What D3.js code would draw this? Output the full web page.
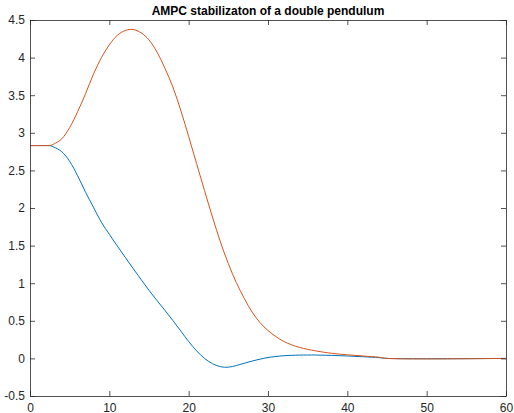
<!DOCTYPE html>
<html>
<head>
<meta charset="utf-8">
<script src="https://cdn.jsdelivr.net/npm/d3@7"></script>
<style>
  body { margin: 0; background: #fff; }
  text { font-family: "Liberation Sans", Arial, sans-serif; }
</style>
</head>
<body>
<div id="chart"></div>
<script>
// data
var time = [0, 1, 2, 2.5, 3, 4, 5, 6, 7, 8, 9, 10, 11, 12, 13, 14, 15, 16, 17, 18, 19, 20,
  21, 22, 23, 24, 25, 26, 27, 28, 29, 30, 31, 32, 33, 34, 36, 38, 40, 42, 44, 45, 60];
var theta1 = [2.83, 2.83, 2.83, 2.83, 2.81, 2.75, 2.62, 2.43, 2.21, 2.01, 1.81, 1.65, 1.495, 1.345, 1.195, 1.05,
  0.905, 0.77, 0.64, 0.505, 0.365, 0.225, 0.10, 0.0, -0.07, -0.11, -0.117, -0.095, -0.065, -0.035, -0.01,
  0.012, 0.026, 0.036, 0.041, 0.044, 0.045, 0.04, 0.032, 0.022, 0.01, 0, 0];
var theta2 = [2.83, 2.83, 2.83, 2.83, 2.85, 2.92, 3.07, 3.28, 3.52, 3.78, 4.0, 4.17, 4.295, 4.36, 4.374, 4.33,
  4.235, 4.075, 3.86, 3.61, 3.30, 2.95, 2.59, 2.23, 1.88, 1.55, 1.26, 1.01, 0.80, 0.615, 0.475, 0.37,
  0.29, 0.225, 0.18, 0.145, 0.10, 0.068, 0.048, 0.032, 0.015, 0, 0];
var xTicks = [0, 10, 20, 30, 40, 50, 60];
var yTicks = [-0.5, 0, 0.5, 1, 1.5, 2, 2.5, 3, 3.5, 4, 4.5];

function drawChart() {
  var width = 514, height = 413;
  var mLeft = 30, mRight = 506, mTop = 20, mBottom = 396;

  var svg = d3.select('#chart').append('svg')
    .attr('width', width)
    .attr('height', height);

  var x = d3.scaleLinear().domain([0, 60]).range([mLeft, mRight]);
  var y = d3.scaleLinear().domain([-0.5, 4.5]).range([mBottom, mTop]);

  // curves
  var line = d3.line()
    .x(function(d) { return x(d[0]); })
    .y(function(d) { return y(d[1]); })
    .curve(d3.curveCatmullRom.alpha(0.5));

  var series = [
    { vals: theta1, color: '#0072BD' },
    { vals: theta2, color: '#D95319' }
  ];

  series.forEach(function(s) {
    svg.append('path')
      .datum(time.map(function(t, i) { return [t, s.vals[i]]; }))
      .attr('fill', 'none')
      .attr('stroke', s.color)
      .attr('stroke-width', 1)
      .attr('d', line);
  });

  // axes box, ticks pointing in
  var axisColor = '#262626';
  var fmt = function(d) { return String(d); };

  svg.append('g')
    .attr('transform', 'translate(0,' + mBottom + ')')
    .call(d3.axisBottom(x).tickValues(xTicks).tickFormat(fmt).tickSizeInner(-5).tickSizeOuter(0).tickPadding(7));
  svg.append('g')
    .attr('transform', 'translate(0,' + mTop + ')')
    .call(d3.axisTop(x).tickValues(xTicks).tickSizeInner(-5).tickSizeOuter(0).tickFormat(''));
  svg.append('g')
    .attr('transform', 'translate(' + mLeft + ',0)')
    .call(d3.axisLeft(y).tickValues(yTicks).tickFormat(fmt).tickSizeInner(-5).tickSizeOuter(0).tickPadding(5));
  svg.append('g')
    .attr('transform', 'translate(' + mRight + ',0)')
    .call(d3.axisRight(y).tickValues(yTicks).tickSizeInner(-5).tickSizeOuter(0).tickFormat(''));

  svg.selectAll('.domain, .tick line').attr('stroke', axisColor).attr('stroke-width', 0.8);
  svg.selectAll('.tick text')
    .attr('fill', axisColor)
    .style('font-size', '12px')
    .style('font-family', '"Liberation Sans", Arial, sans-serif');

  // title
  svg.append('text')
    .attr('x', (mLeft + mRight) / 2)
    .attr('y', 15)
    .attr('text-anchor', 'middle')
    .style('font-size', '12px')
    .style('font-weight', 'bold')
    .attr('fill', '#000')
    .text('AMPC stabilizaton of a double pendulum');
}

drawChart();
</script>
</body>
</html>
